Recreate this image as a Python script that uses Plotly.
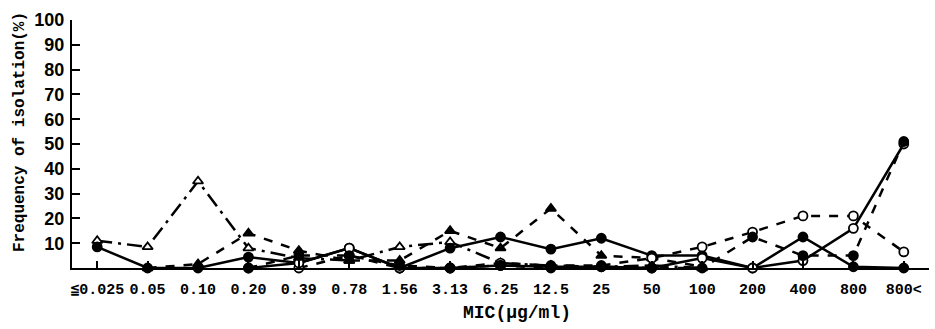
import plotly.graph_objects as go

categories = ["≦0.025", "0.05", "0.10", "0.20", "0.39", "0.78", "1.56", "3.13",
              "6.25", "12.5", "25", "50", "100", "200", "400", "800", "800<"]

series_a = [11, 8.5, 35, 8, 4, 3, 8.5, 10.5, 2, 1, 0.5, 1, 0, None, None, None, None]
series_b = [8.5, 0, 0, 4.4, 2, 8, 0, 8, 12.5, 7.6, 12, 5, 5, 0, 12.5, 0.5, 0]
series_c = [None, 0, 1.6, 14, 7, 3, 3, 15, 8, 24, 5, 4, 0.5, None, None, None, None]
series_e = [None, None, None, None, 0, 5, 0, 0, 2, 1, 1, 4, 8.5, 14.5, 21, 21, 6.5]
series_f = [None, None, None, 0, 2, 8, 0, 0, 1, 0.5, 0.5, 0, 4, 0, 3, 16, 50]
series_g = [None, None, None, 0, 5, 5, 1, 0, 1, 0, 0.5, 0, 0, 12.5, 5, 5, 51]

y_ticks = [10, 20, 30, 40, 50, 60, 70, 80, 90, 100]

styles = [
    (series_a, "longdashdot", "triangle-up", "white"),
    (series_b, "solid", "circle", "black"),
    (series_c, "dash", "triangle-up", "black"),
    (series_e, "dash", "circle", "white"),
    (series_f, "solid", "circle", "white"),
    (series_g, "dash", "circle", "black"),
]

fig = go.Figure()
for vals, dash, sym, fill in styles:
    fig.add_trace(go.Scatter(
        x=categories, y=vals, mode="lines+markers",
        line=dict(color="black", width=2.5, dash=dash),
        marker=dict(symbol=sym, size=9, color=fill, line=dict(color="black", width=1.8)),
        connectgaps=False, cliponaxis=False, showlegend=False,
    ))

mono = "Liberation Mono, DejaVu Sans Mono, monospace"

fig.update_layout(
    width=935, height=329,
    margin=dict(l=72, r=6, t=20, b=61),
    paper_bgcolor="white", plot_bgcolor="white",
    xaxis=dict(
        type="category", categoryorder="array", categoryarray=categories,
        range=[-0.5, 16.5], showgrid=False, zeroline=False,
        showline=True, linecolor="black", linewidth=2,
        ticks="inside", ticklen=7, tickwidth=1.5, tickcolor="black",
        tickfont=dict(family=mono, size=15, color="black", weight="bold"),
        ticklabelstandoff=6,
    ),
    yaxis=dict(
        range=[0, 100], tickvals=y_ticks, showgrid=False, zeroline=False,
        showline=True, linecolor="black", linewidth=2,
        ticks="inside", ticklen=8, tickwidth=1.5, tickcolor="black",
        tickfont=dict(family="Liberation Sans, Arial, sans-serif", size=18, color="black", weight="bold"),
        ticklabelstandoff=2,
    ),
    annotations=[
        dict(text="MIC(μg/ml)", xref="paper", yref="paper",
             x=(517 - 72) / 857, y=-(313 - 268) / 248, xanchor="center", yanchor="middle",
             showarrow=False, font=dict(family=mono, size=18, color="black", weight="bold")),
        dict(text="Frequency of isolation(%)", xref="paper", yref="paper",
             x=-(72 - 20) / 857, y=(268 - 132) / 248, xanchor="center", yanchor="middle",
             textangle=-90, showarrow=False,
             font=dict(family=mono, size=16, color="black", weight="bold")),
    ],
)

fig.write_html("out.html")
